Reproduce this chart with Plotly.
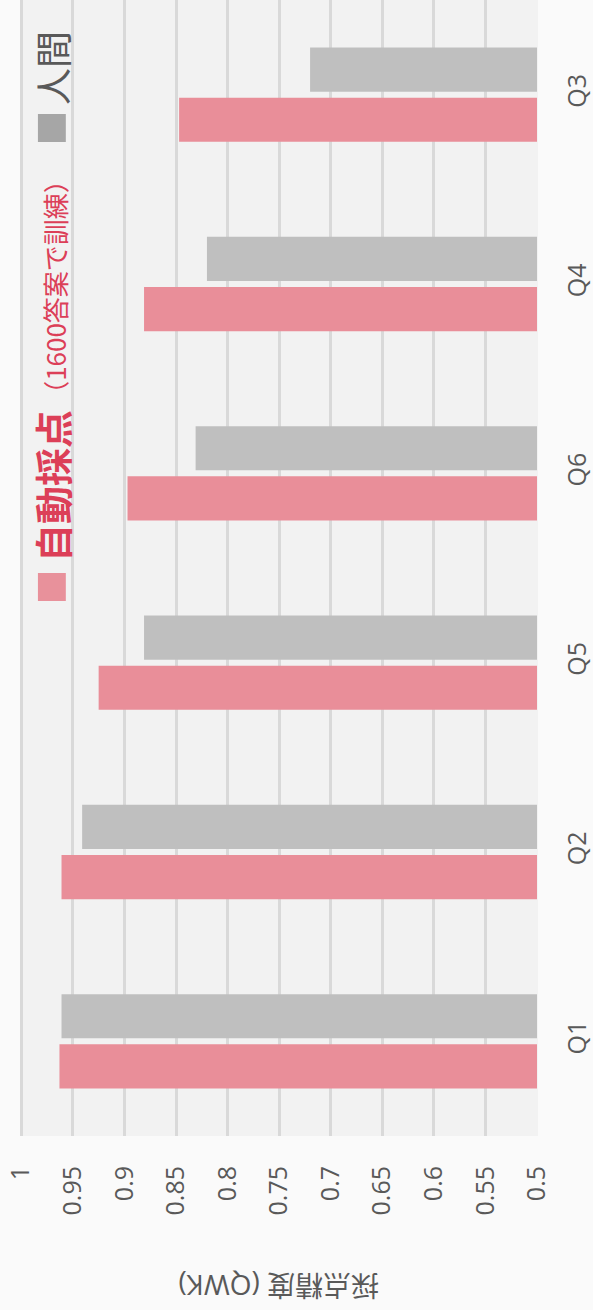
import plotly.graph_objects as go

# ---- data ----
categories = ["Q1", "Q2", "Q5", "Q6", "Q4", "Q3"]
auto_scores = [0.963, 0.961, 0.925, 0.897, 0.881, 0.847]
human_scores = [0.961, 0.941, 0.881, 0.831, 0.820, 0.720]
series_names = ["自動採点", "人間"]
legend_note = "（1600答案で訓練）"
value_ticks = [1.0, 0.95, 0.9, 0.85, 0.8, 0.75, 0.7, 0.65, 0.6, 0.55, 0.5]
value_tick_text = ["1", "0.95", "0.9", "0.85", "0.8", "0.75", "0.7", "0.65", "0.6", "0.55", "0.5"]
axis_title = "採点精度 (QWK)"
base_value = 0.5

# ---- style ----
PINK = "#e98e99"
GRAY = "#bfbfbf"
RED_TXT = "#dc3f58"
TXT = "#595959"
W, H = 593, 1310
ML, MR, MT, MB = 20, 53, 0, 174
PW, PH = W - ML - MR, H - MT - MB
FONT = "Open Sans, Noto Sans CJK JP, sans-serif"


def px_x(px):
    return (px - ML) / PW


def px_y(py):
    return (MT + PH - py) / PH


fig = go.Figure()
fig.add_trace(go.Bar(
    y=categories, x=[v - base_value for v in auto_scores], base=base_value,
    orientation="h", name=series_names[0], marker=dict(color=PINK, line=dict(width=0)),
))
fig.add_trace(go.Bar(
    y=categories, x=[v - base_value for v in human_scores], base=base_value,
    orientation="h", name=series_names[1], marker=dict(color=GRAY, line=dict(width=0)),
))

fig.update_layout(
    width=W, height=H,
    margin=dict(l=ML, r=MR, t=MT, b=MB),
    paper_bgcolor="#fafafa", plot_bgcolor="#f2f2f2",
    barmode="group", bargap=0.47, bargroupgap=0.12,
    showlegend=False,
    font=dict(family=FONT, color=TXT),
)
fig.update_xaxes(
    range=[1.00126, 0.49903], tickvals=value_ticks, ticktext=value_tick_text,
    tickangle=-90, tickfont=dict(size=25, color=TXT, family=FONT),
    showgrid=True, gridcolor="#d9d9d9", gridwidth=2.5,
    zeroline=False, showline=False, ticks="", ticklabelstandoff=24,
)
fig.update_yaxes(
    side="right", tickangle=-90, tickfont=dict(size=25, color=TXT, family=FONT),
    showgrid=False, zeroline=False, showline=False, ticks="", ticklabelstandoff=22,
)

# axis title (upside down)
fig.add_annotation(
    text=axis_title, xref="paper", yref="paper", x=px_x(280), y=px_y(1286),
    xanchor="center", yanchor="middle", showarrow=False, textangle=180,
    font=dict(size=28, color=TXT, family=FONT),
)

# legend drawn as rotated text + squares
fig.add_shape(type="rect", xref="paper", yref="paper",
              x0=px_x(38), x1=px_x(66), y0=px_y(601), y1=px_y(573),
              fillcolor="#e8919b", line=dict(width=0), layer="above")
fig.add_annotation(
    text=series_names[0], xref="paper", yref="paper", x=px_x(51), y=px_y(486),
    xanchor="center", yanchor="middle", showarrow=False, textangle=-90,
    font=dict(size=38, color=RED_TXT, family="Noto Sans CJK JP", weight="bold"),
)
fig.add_annotation(
    text=legend_note, xref="paper", yref="paper", x=px_x(55), y=px_y(287),
    xanchor="center", yanchor="middle", showarrow=False, textangle=-90,
    font=dict(size=26, color=RED_TXT, family="Noto Sans CJK JP"),
)
fig.add_shape(type="rect", xref="paper", yref="paper",
              x0=px_x(38), x1=px_x(66), y0=px_y(142), y1=px_y(114),
              fillcolor="#a6a6a6", line=dict(width=0), layer="above")
fig.add_annotation(
    text=series_names[1], xref="paper", yref="paper", x=px_x(52), y=px_y(68),
    xanchor="center", yanchor="middle", showarrow=False, textangle=-90,
    font=dict(size=37, color=TXT, family="Noto Sans CJK JP"),
)

fig.write_html(
    "out.html",
    config={"displayModeBar": False},
    post_script="document.body.style.margin='0';document.body.style.background='#fafafa';",
)
